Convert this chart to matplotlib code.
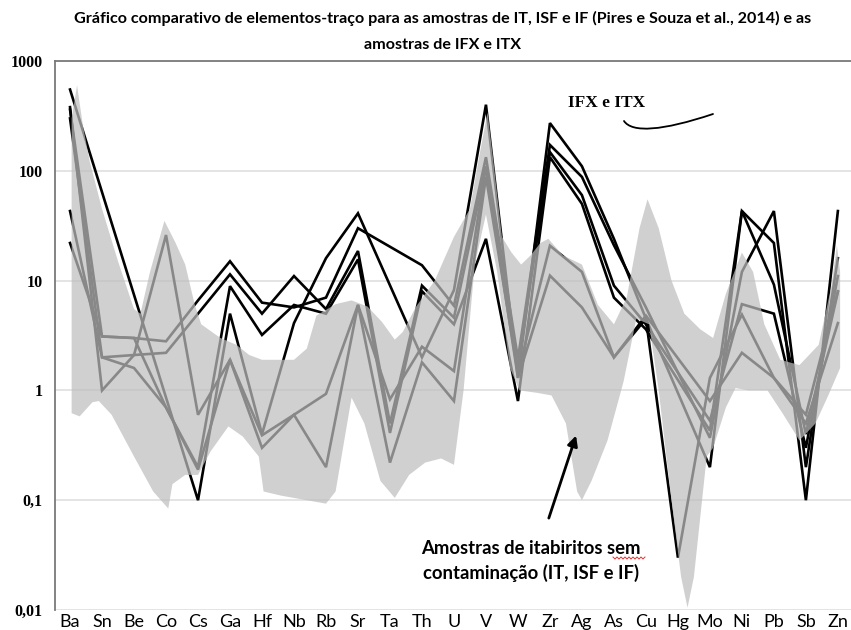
import numpy as np
import matplotlib
matplotlib.use("Agg")
import matplotlib.pyplot as plt
from matplotlib.patches import PathPatch
from matplotlib.path import Path
from matplotlib.lines import Line2D
from matplotlib.ticker import NullLocator

nan = np.nan

# elementos-traço (eixo x)
elementos = ["Ba", "Sn", "Be", "Co", "Cs", "Ga", "Hf", "Nb", "Rb", "Sr", "Ta", "Th", "U",
             "V", "W", "Zr", "Ag", "As", "Cu", "Hg", "Mo", "Ni", "Pb", "Sb", "Zn"]

# amostras (nan = sem dado)
amostra_1 = [550, nan, nan, nan, 0.1, 5.0, 0.4, 4.1, 16, 41, nan, 2.0, 8.2,
             400, 1.3, 272, 110, 24, 4.5, nan, 0.2, 43, 22, 0.1, 43]
amostra_2 = [380, 1.0, 2.1, 26, 0.6, 1.9, 0.3, 0.6, 0.2, 6.0, 0.22, 1.8, 0.8,
             88, 1.45, 20.8, 12, 2.0, 4.5, 0.03, 1.3, 4.9, 1.3, 0.6, 8.0]
amostra_3 = [360, 3.1, 3.0, 2.8, 6.6, 15, 6.3, 5.7, 7.0, 30, nan, 13.8, 5.9,
             133, 1.95, 172, 88, 21, 5.7, nan, 0.37, 12, 43, 0.2, 16]
amostra_4 = [43, 2.0, 2.1, 2.2, 5.0, 11.4, 5.0, 11, 5.5, 18.6, 0.5, 9.0, 4.6,
             110, 1.6, 148, 60, 9.0, 4.0, nan, 0.53, 6.1, 5.0, 0.3, 11]
amostra_5 = [22, 3.1, 3.0, 0.7, 0.2, 8.9, 3.2, 6.0, 5.0, 15.6, 0.41, 8.0, 4.0,
             24, 0.8, 133, 50, 7.0, 3.6, nan, 0.43, 43, 9.2, 0.4, 7.9]
amostra_6 = [300, 2.0, 1.6, 0.7, 0.19, 1.9, 0.39, 0.6, 0.93, 6.0, 0.83, 2.5, 1.5,
             110, 1.3, 11.1, 5.7, 2.0, 4.8, nan, 0.8, 2.2, 1.3, 0.5, 4.1]
amostras = [amostra_1, amostra_2, amostra_3, amostra_4, amostra_5, amostra_6]

# envoltoria das amostras sem contaminacao (IT, ISF e IF) - posicao no eixo x / valor
env_sup_x = [0.05, 0.22, 0.4, 0.62, 1.0, 1.5, 2.0, 2.2, 2.5, 2.95, 3.3, 3.6, 3.9, 4.1,
             4.7, 5.2, 5.6, 6.0, 7.0, 7.4, 7.7, 8.3, 8.8, 9.3, 9.75, 10.15, 10.4, 10.8,
             11.4, 12.0, 12.5, 12.8, 13.05, 13.25, 13.5, 13.8, 14.1, 14.4, 14.7, 14.95,
             15.4, 16.0, 16.5, 17.0, 17.4, 17.8, 18.05, 18.4, 18.8, 19.2, 19.7, 20.1,
             20.5, 21.0, 21.35, 21.7, 22.2, 22.8, 23.4, 23.8, 23.97, 24.07]
env_sup_y = [300, 600, 260, 120, 45, 15, 5.5, 5.0, 12, 35, 22, 14, 6.0, 4.0,
             3.0, 2.6, 2.1, 1.9, 1.9, 2.4, 4.8, 6.1, 6.6, 5.8, 4.2, 2.9, 3.4, 5.7,
             10, 25, 45, 140, 340, 110, 25, 18, 14, 17, 22, 24,
             17, 14, 6, 4, 7, 30, 55, 30, 10, 5, 3.6, 3.0,
             7.6, 18, 12, 4.0, 1.9, 1.7, 2.6, 9, 21, 12]
env_inf_x = [0.05, 0.3, 0.7, 0.9, 1.3, 2.0, 2.6, 3.07, 3.2, 3.6, 4.0, 4.4, 4.95, 5.4,
             5.9, 6.05, 6.6, 7.4, 8.0, 8.3, 8.8, 9.2, 9.7, 10.15, 10.6, 11.1, 11.6,
             12.0, 12.3, 12.65, 13.0, 13.35, 13.75, 14.05, 14.6, 15.05, 15.5, 15.85,
             16.0, 16.3, 16.8, 17.3, 17.7, 18.1, 18.4, 18.8, 19.1, 19.3, 19.5, 19.9,
             20.1, 20.5, 20.8, 21.2, 21.8, 22.3, 22.8, 23.3, 23.7, 24.07]
env_inf_y = [0.62, 0.58, 0.78, 0.8, 0.6, 0.25, 0.12, 0.084, 0.14, 0.17, 0.17, 0.28, 0.47, 0.38,
             0.25, 0.12, 0.11, 0.1, 0.093, 0.12, 0.86, 0.5, 0.15, 0.105, 0.17, 0.22, 0.24,
             0.21, 1.0, 14, 40, 12, 1.6, 1.0, 0.95, 0.9, 0.5, 0.12,
             0.1, 0.15, 0.35, 1.2, 4.5, 4.0, 1.0, 0.1, 0.02, 0.0105, 0.02, 0.25,
             0.3, 0.7, 1.05, 1.0, 1.0, 0.6, 0.35, 0.5, 0.9, 1.6]

y_ticks = [0.01, 0.1, 1, 10, 100, 1000]
y_labels = ["0,01", "0,1", "1", "10", "100", "1000"]

W, H = 851, 630
fig = plt.figure(figsize=(W / 100, H / 100), dpi=100)
ax = fig.add_axes([55 / W, 20 / H, 796 / W, 549 / H])

x = np.arange(len(elementos))
for serie in amostras:
    s = np.array(serie, dtype=float)
    ok = ~np.isnan(s)
    ax.plot(x[ok], s[ok], color="black", lw=1.9, zorder=2, solid_joinstyle="miter")

# sombra cinza semi-transparente por cima das linhas
poly_x = env_sup_x + env_inf_x[::-1]
poly_y = env_sup_y + env_inf_y[::-1]
ax.fill(poly_x, poly_y, color="#bebebe", alpha=0.72, lw=0, zorder=3)

ax.set_yscale("log")
ax.set_ylim(0.01, 1000)
ax.set_xlim(-0.47, 24.41)
ax.set_yticks(y_ticks)
ax.set_yticklabels(y_labels, fontfamily="Liberation Serif", fontweight="bold", fontsize=11.5)
ax.yaxis.set_minor_locator(NullLocator())
ax.set_xticks(x)
ax.set_xticklabels(elementos, fontfamily="Lato", fontsize=13)
ax.tick_params(axis="y", length=0, pad=9)
ax.tick_params(axis="x", length=0, pad=3)
ax.yaxis.grid(True, color="#e2e2e2", lw=1.3)
ax.set_axisbelow(True)
for sp in ["right", "bottom"]:
    ax.spines[sp].set_visible(False)
for sp in ["left", "top"]:
    ax.spines[sp].set_color("#7a7a7a")
    ax.spines[sp].set_linewidth(1.3)

fig.text(443 / W, 1 - 18 / H,
         "Gráfico comparativo de elementos-traço para as amostras de IT, ISF e IF (Pires e Souza et al., 2014) e as",
         ha="center", va="center", fontfamily="Lato", fontweight="bold", fontsize=11.6)
fig.text(443 / W, 1 - 45 / H, "amostras de IFX e ITX",
         ha="center", va="center", fontfamily="Lato", fontweight="bold", fontsize=11.6)

# anotacoes
fig.text(607 / W, 1 - 103 / H, "IFX e ITX", ha="center", va="center",
         fontfamily="Liberation Serif", fontweight="bold", fontsize=12.5)
traco = Path([(624 / W, 1 - 121 / H), (632 / W, 1 - 133 / H),
              (662 / W, 1 - 131 / H), (713 / W, 1 - 114 / H)],
             [Path.MOVETO, Path.CURVE4, Path.CURVE4, Path.CURVE4])
fig.add_artist(PathPatch(traco, transform=fig.transFigure, fill=False, lw=1.3,
                         edgecolor="black", capstyle="round"))

fig.text(531 / W, 1 - 548 / H, "Amostras de itabiritos sem", ha="center", va="center",
         fontfamily="Lato", fontweight="bold", fontsize=13.3)
fig.text(531 / W, 1 - 573 / H, "contaminação (IT, ISF e IF)", ha="center", va="center",
         fontfamily="Lato", fontweight="bold", fontsize=13.3)
zx = np.arange(613, 646, 2)
zy = np.where(np.arange(len(zx)) % 2 == 0, 557.0, 559.0)
fig.add_artist(Line2D(zx / W, 1 - zy / H, transform=fig.transFigure, color="#e03030", lw=0.7))

ax.annotate("", xy=((577 - 70) / 32, 0.41), xytext=((548 - 70) / 32, 0.065),
            arrowprops=dict(arrowstyle="-|>", color="black", lw=2, mutation_scale=15),
            zorder=5)

fig.savefig("out.png", dpi=100)
